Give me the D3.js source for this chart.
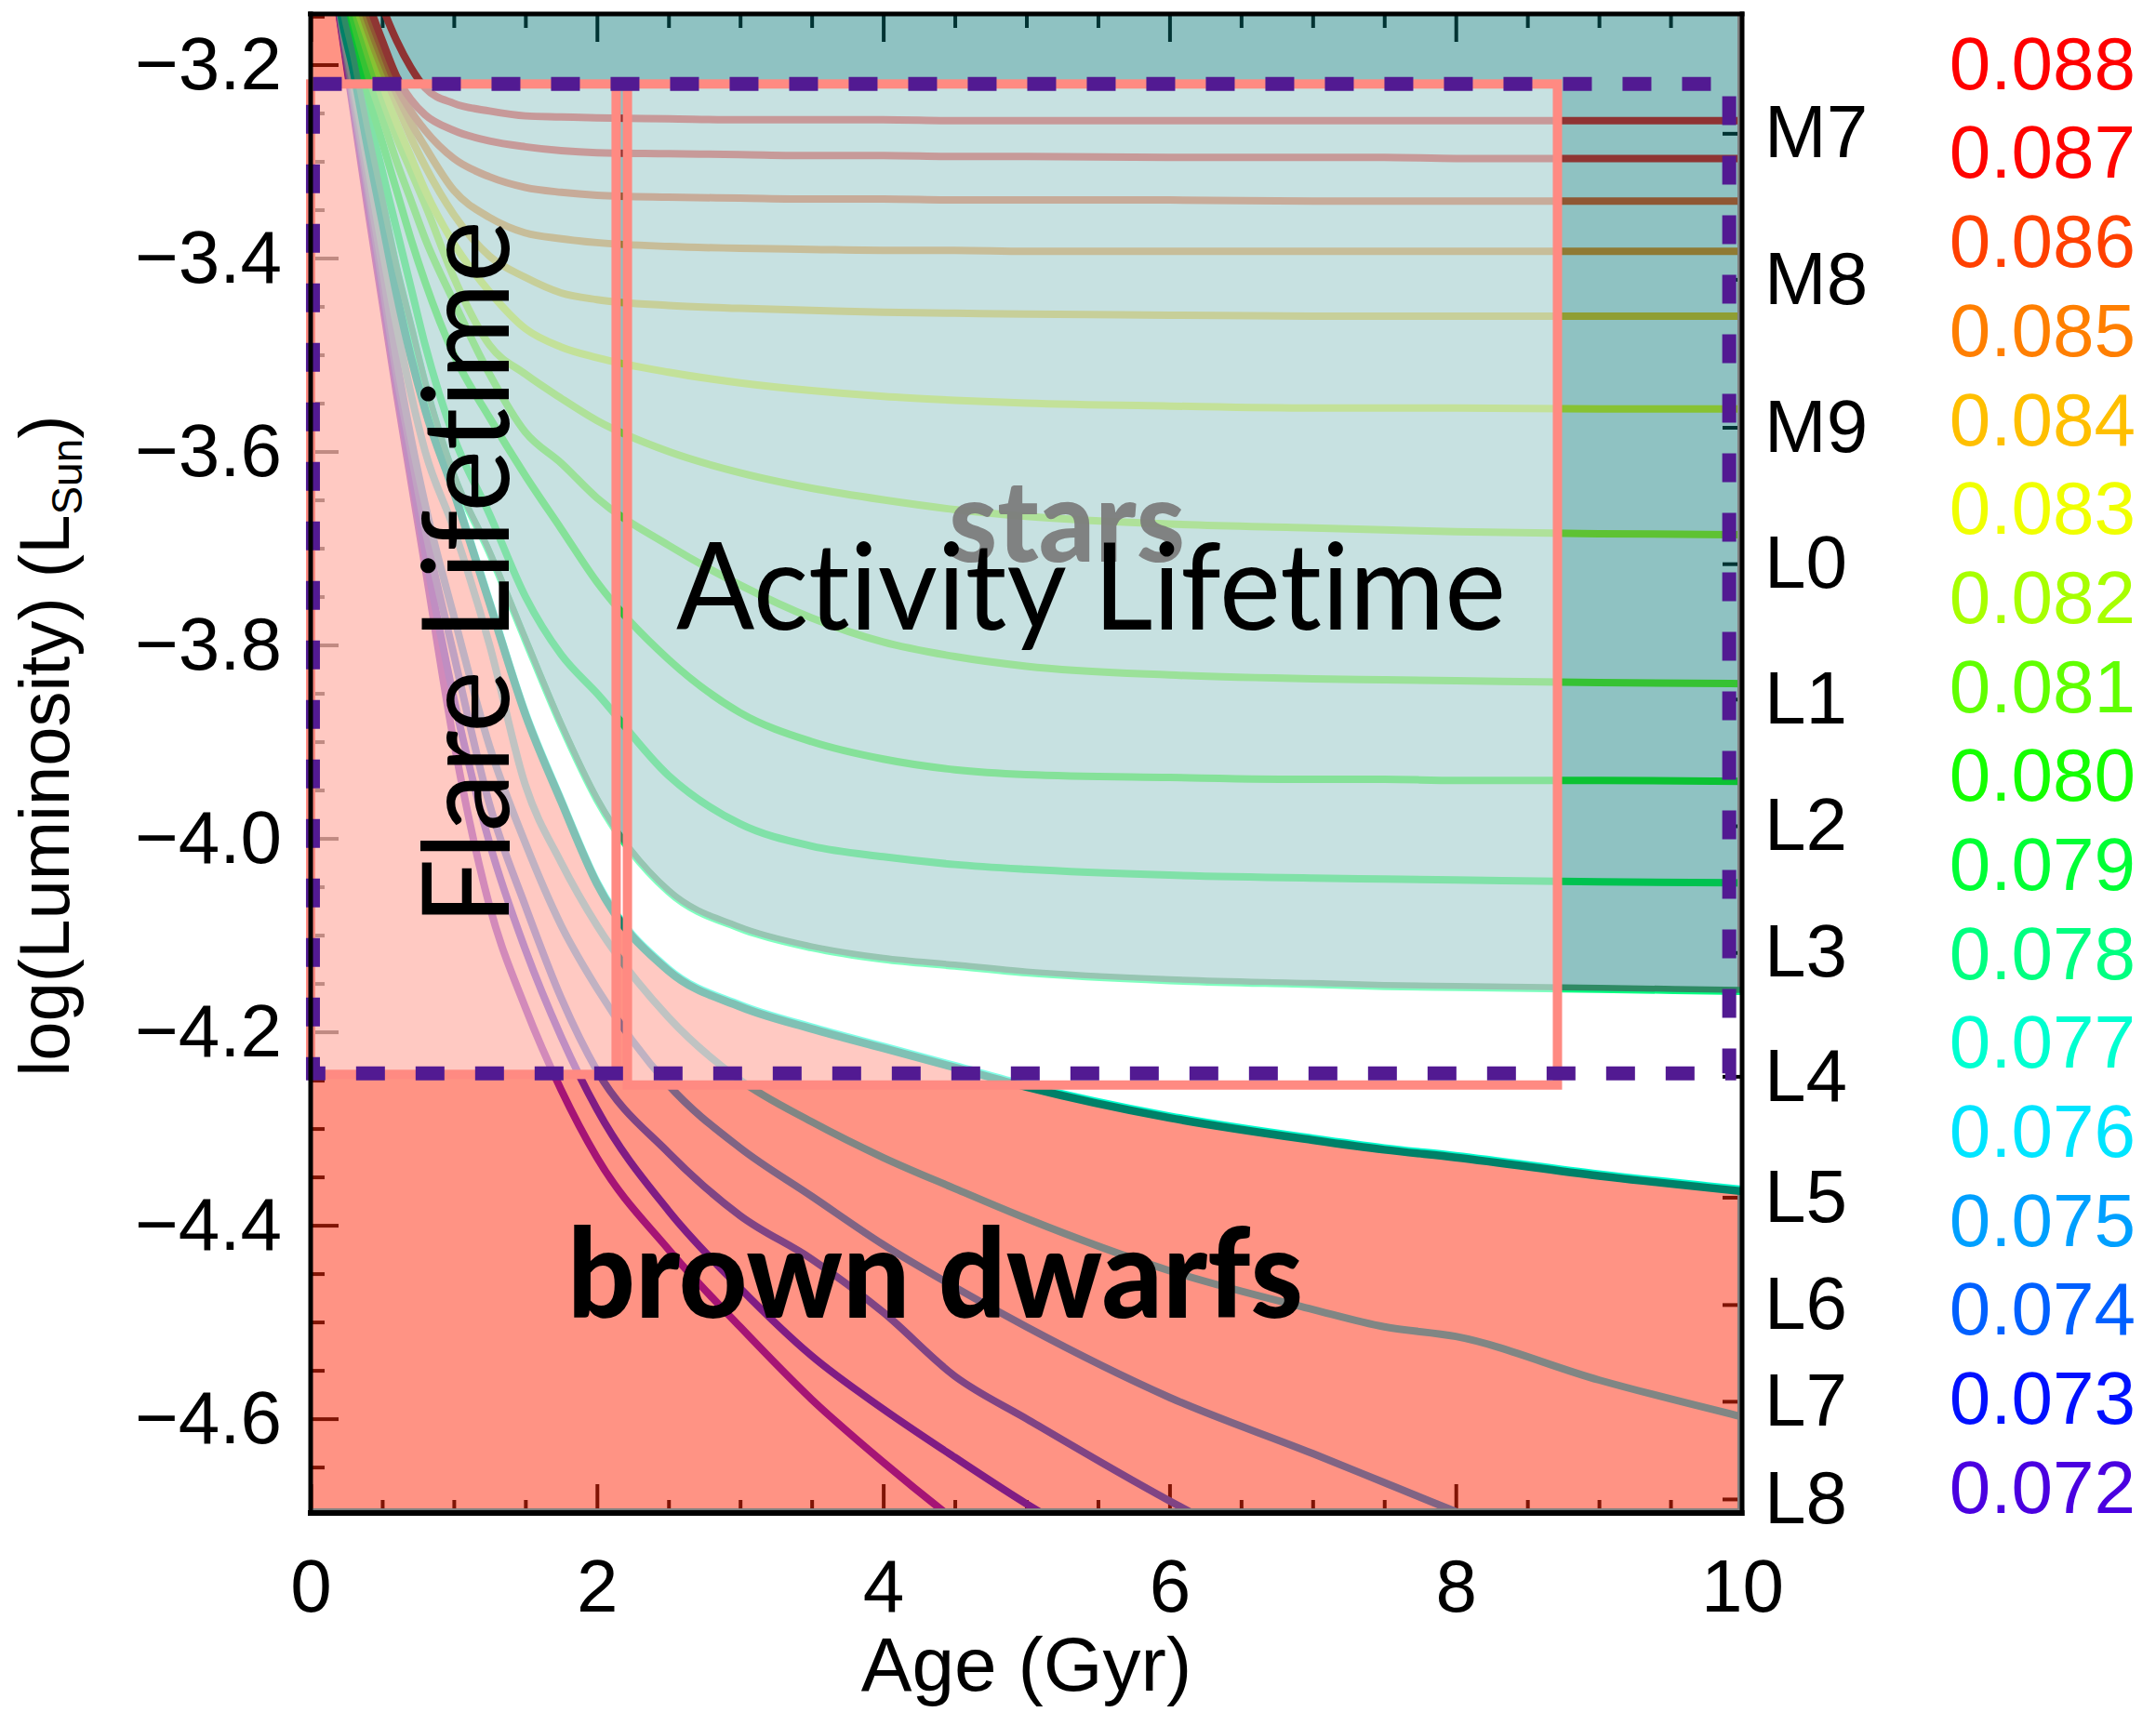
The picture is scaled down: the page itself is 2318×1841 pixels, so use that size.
<!DOCTYPE html>
<html>
<head>
<meta charset="utf-8">
<script src="https://cdn.jsdelivr.net/npm/d3@7"></script>
<style>
  html, body { margin: 0; padding: 0; background: #ffffff; }
  svg { display: block; }
  text { font-variant-ligatures: none; font-feature-settings: "liga" 0; }
</style>
</head>
<body>
<svg id="chart" width="2318" height="1841"></svg>
<script>
// Evolutionary luminosity tracks, log(L/Lsun) versus age (Gyr), one per mass (Msun).
const ages = [0.05, 0.1, 0.2, 0.3, 0.4, 0.5, 0.6, 0.7, 0.8, 1.0, 1.25, 1.5, 1.75, 2.0, 2.5, 3.0, 3.5, 4.0, 4.5, 5.0, 6.0, 7.0, 7.5, 8.0, 9.0, 10.0];

const lum072 = [-2.97, -3.05, -3.15, -3.25, -3.35, -3.445, -3.54, -3.63, -3.72, -3.90, -4.07, -4.175, -4.26, -4.33, -4.425, -4.505, -4.58, -4.645, -4.705, -4.76, -4.86, -4.95, -4.99, -5.03, -5.10, -5.17];
const lum073 = [-2.96, -3.04, -3.148, -3.245, -3.34, -3.435, -3.53, -3.62, -3.705, -3.855, -4.005, -4.115, -4.205, -4.28, -4.385, -4.465, -4.535, -4.59, -4.64, -4.688, -4.77, -4.85, -4.885, -4.92, -4.99, -5.05];
const lum074 = [-2.95, -3.03, -3.145, -3.24, -3.33, -3.425, -3.52, -3.60, -3.68, -3.81, -3.965, -4.07, -4.165, -4.24, -4.325, -4.39, -4.435, -4.49, -4.556, -4.60, -4.685, -4.76, -4.795, -4.83, -4.89, -4.95];
const lum075 = [-2.94, -3.02, -3.142, -3.232, -3.32, -3.41, -3.505, -3.585, -3.655, -3.77, -3.905, -4.005, -4.09, -4.155, -4.255, -4.32, -4.37, -4.42, -4.464, -4.505, -4.578, -4.636, -4.666, -4.696, -4.75, -4.80];
const lum076 = [-2.93, -3.01, -3.14, -3.222, -3.305, -3.39, -3.47, -3.54, -3.60, -3.68, -3.80, -3.945, -4.025, -4.09, -4.185, -4.25, -4.293, -4.33, -4.362, -4.393, -4.447, -4.487, -4.505, -4.515, -4.56, -4.598];
const lum077 = [-2.92, -3.0, -3.135, -3.205, -3.285, -3.36, -3.435, -3.50, -3.555, -3.64, -3.755, -3.87, -3.96, -4.045, -4.135, -4.172, -4.195, -4.215, -4.235, -4.255, -4.287, -4.31, -4.32, -4.328, -4.347, -4.363];
const lum078 = [-2.91, -2.99, -3.125, -3.195, -3.27, -3.34, -3.41, -3.47, -3.53, -3.625, -3.705, -3.795, -3.883, -3.96, -4.055, -4.093, -4.113, -4.125, -4.132, -4.139, -4.147, -4.151, -4.153, -4.154, -4.156, -4.158];
const lum079 = [-2.90, -2.98, -3.115, -3.185, -3.25, -3.31, -3.37, -3.43, -3.49, -3.585, -3.665, -3.75, -3.81, -3.85, -3.935, -3.985, -4.008, -4.019, -4.027, -4.032, -4.038, -4.041, -4.042, -4.043, -4.045, -4.046];
const lum080 = [-2.89, -2.97, -3.105, -3.17, -3.23, -3.28, -3.33, -3.38, -3.425, -3.50, -3.565, -3.625, -3.68, -3.735, -3.815, -3.87, -3.90, -3.918, -3.929, -3.934, -3.937, -3.939, -3.939, -3.94, -3.94, -3.941];
const lum081 = [-2.88, -2.96, -3.095, -3.155, -3.21, -3.255, -3.30, -3.34, -3.38, -3.445, -3.52, -3.58, -3.612, -3.648, -3.697, -3.738, -3.772, -3.797, -3.812, -3.822, -3.831, -3.835, -3.836, -3.837, -3.839, -3.84];
const lum082 = [-2.87, -2.95, -3.085, -3.14, -3.19, -3.235, -3.275, -3.31, -3.345, -3.42, -3.49, -3.52, -3.545, -3.568, -3.60, -3.622, -3.638, -3.65, -3.66, -3.667, -3.675, -3.679, -3.681, -3.683, -3.685, -3.686];
const lum083 = [-2.86, -2.94, -3.075, -3.13, -3.175, -3.22, -3.26, -3.295, -3.33, -3.385, -3.435, -3.473, -3.492, -3.503, -3.518, -3.529, -3.537, -3.543, -3.547, -3.55, -3.553, -3.555, -3.555, -3.555, -3.556, -3.556];
const lum084 = [-2.85, -2.93, -3.065, -3.12, -3.165, -3.205, -3.24, -3.275, -3.305, -3.355, -3.398, -3.42, -3.436, -3.443, -3.449, -3.452, -3.454, -3.456, -3.457, -3.458, -3.459, -3.46, -3.46, -3.46, -3.46, -3.46];
const lum085 = [-2.84, -2.92, -3.055, -3.11, -3.155, -3.195, -3.23, -3.26, -3.285, -3.33, -3.358, -3.374, -3.38, -3.384, -3.388, -3.39, -3.391, -3.392, -3.392, -3.393, -3.393, -3.393, -3.393, -3.393, -3.393, -3.393];
const lum086 = [-2.83, -2.91, -3.045, -3.10, -3.145, -3.185, -3.222, -3.248, -3.268, -3.297, -3.316, -3.327, -3.332, -3.335, -3.337, -3.338, -3.339, -3.339, -3.34, -3.34, -3.34, -3.341, -3.341, -3.341, -3.341, -3.341];
const lum087 = [-2.82, -2.90, -3.035, -3.09, -3.135, -3.175, -3.212, -3.236, -3.252, -3.268, -3.279, -3.285, -3.289, -3.291, -3.292, -3.293, -3.294, -3.294, -3.295, -3.295, -3.296, -3.296, -3.296, -3.297, -3.297, -3.297];
const lum088 = [-2.80, -2.88, -2.99, -3.05, -3.10, -3.14, -3.175, -3.203, -3.224, -3.24, -3.248, -3.253, -3.254, -3.255, -3.256, -3.257, -3.257, -3.257, -3.258, -3.258, -3.258, -3.258, -3.258, -3.258, -3.258, -3.258];

// Masses (legend order, top to bottom) and their rainbow colours
const masses = ["0.088", "0.087", "0.086", "0.085", "0.084", "0.083", "0.082", "0.081", "0.080", "0.079", "0.078", "0.077", "0.076", "0.075", "0.074", "0.073", "0.072"];
const massColors = ["#ff0000", "#ff0400", "#ff4000", "#ff7f00", "#ffbf00", "#f0ff00", "#a8ff00", "#60ff00", "#14ff00", "#00ff35", "#00ff80", "#00ffd0", "#00e5ff", "#00a0ff", "#0060ff", "#0010ff", "#4a00e0"];
const massLums = [lum088, lum087, lum086, lum085, lum084, lum083, lum082, lum081, lum080, lum079, lum078, lum077, lum076, lum075, lum074, lum073, lum072];

// Spectral types on the right-hand axis
const spectralTypes = ["M7", "M8", "M9", "L0", "L1", "L2", "L3", "L4", "L5", "L6", "L7", "L8"];
const spectralLum = [-3.271, -3.422, -3.575, -3.716, -3.856, -3.987, -4.118, -4.246, -4.371, -4.482, -4.582, -4.683];

// Axis ticks
const ageTicks = [0, 2, 4, 6, 8, 10];
const ageMinorTicks = [0.5, 1, 1.5, 2.5, 3, 3.5, 4.5, 5, 5.5, 6.5, 7, 7.5, 8.5, 9, 9.5];
const lumTicks = [-4.6, -4.4, -4.2, -4.0, -3.8, -3.6, -3.4, -3.2];
const lumMinorTicks = [-4.65, -4.55, -4.5, -4.45, -4.35, -4.3, -4.25, -4.15, -4.1, -4.05, -3.95, -3.9, -3.85, -3.75, -3.7, -3.65, -3.55, -3.5, -3.45, -3.35, -3.3, -3.25, -3.15];

// Activity and flare windows (age range, luminosity range)
const flareBox = { age: [0, 2.134], lum: [-3.22, -4.244] };
const activityBox = { age: [2.213, 8.71], lum: [-3.22, -4.255] };
const limitBox = { age: [0.016, 9.91], lum: [-3.22, -4.243] };

// ---------------------------------------------------------------
const svg = d3.select("#chart");
const plotL = 334, plotR = 1873, plotT = 15, plotB = 1627;

const x = d3.scaleLinear().domain([0, 10]).range([plotL, plotR]);
const y = d3.scaleLinear().domain([-4.6, -3.2]).range([1525.6, 69.5]);

const FONT = "'Liberation Sans', Arial, Helvetica, sans-serif";
const TITLE_FONT = "Lato, 'Open Sans', sans-serif";

svg.append("defs").append("clipPath").attr("id", "plotclip")
  .append("rect").attr("x", plotL).attr("y", plotT)
  .attr("width", plotR - plotL).attr("height", plotB - plotT);

const plot = svg.append("g").attr("clip-path", "url(#plotclip)");

function noDomain(g) { g.select(".domain").remove(); }

// Tick marks (drawn first so the shaded regions tint them)
const ticks = plot.append("g").attr("color", "#000").attr("stroke-width", 4);
ticks.append("g").attr("transform", `translate(${plotL},0)`)
  .call(d3.axisRight(y).tickValues(lumTicks).tickSize(30).tickFormat(""))
  .call(noDomain);
ticks.append("g").attr("transform", `translate(${plotL},0)`)
  .call(d3.axisRight(y).tickValues(lumMinorTicks).tickSize(15).tickFormat(""))
  .call(noDomain);
ticks.append("g").attr("transform", `translate(0,${plotB})`)
  .call(d3.axisTop(x).tickValues(ageTicks).tickSize(31).tickFormat(""))
  .call(noDomain);
ticks.append("g").attr("transform", `translate(0,${plotB})`)
  .call(d3.axisTop(x).tickValues(ageMinorTicks).tickSize(14).tickFormat(""))
  .call(noDomain);
ticks.append("g").attr("transform", `translate(0,${plotT})`)
  .call(d3.axisBottom(x).tickValues(ageTicks).tickSize(30).tickFormat(""))
  .call(noDomain);
ticks.append("g").attr("transform", `translate(0,${plotT})`)
  .call(d3.axisBottom(x).tickValues(ageMinorTicks).tickSize(15).tickFormat(""))
  .call(noDomain);
ticks.append("g").attr("transform", `translate(${plotR},0)`)
  .call(d3.axisLeft(y).tickValues(spectralLum).tickSize(21).tickFormat(""))
  .call(noDomain);

// Evolutionary tracks
const tracks = masses.map((m, i) => ({
  mass: m,
  color: massColors[i],
  points: ages.map((a, j) => ({ age: a, lum: massLums[i][j] }))
}));

const line = d3.line()
  .x(d => x(d.age))
  .y(d => y(d.lum))
  .curve(d3.curveMonotoneX);

plot.append("g").selectAll("path")
  .data(tracks.slice().reverse())
  .join("path")
  .attr("d", d => line(d.points))
  .attr("fill", "none")
  .attr("stroke", d => d.color)
  .attr("stroke-width", 8)
  .attr("stroke-linejoin", "round");

const track077 = tracks.find(t => t.mass === "0.077");
const track078 = tracks.find(t => t.mass === "0.078");
const last077 = track077.points[track077.points.length - 1];
const last078 = track078.points[track078.points.length - 1];

// Stellar region: above the 0.078 Msun track
const starArea = d3.area()
  .x(d => x(d.age))
  .y0(plotT - 20)
  .y1(d => y(d.lum))
  .curve(d3.curveMonotoneX);
plot.append("path")
  .attr("d", starArea(track078.points))
  .attr("fill", "rgb(0,115,115)")
  .attr("fill-opacity", 0.44);

// Brown dwarf region: below the 0.077 Msun track
const bdPoints = [{ age: 0, lum: track077.points[0].lum }].concat(track077.points);
const bdArea = d3.area()
  .x(d => x(d.age))
  .y0(plotB + 20)
  .y1(d => y(d.lum))
  .curve(d3.curveMonotoneX);
plot.append("path")
  .attr("d", bdArea(bdPoints))
  .attr("fill", "rgb(255,40,10)")
  .attr("fill-opacity", 0.5);

// Grey outline of the shaded regions along the plot edges
const outline = plot.append("g").attr("stroke", "#808080").attr("stroke-width", 10).attr("fill", "none");
outline.append("line").attr("x1", x(10)).attr("x2", x(10)).attr("y1", plotT).attr("y2", y(last078.lum));
outline.append("line").attr("x1", x(10)).attr("x2", x(10)).attr("y1", y(last077.lum)).attr("y2", plotB);
outline.append("line").attr("x1", x(0)).attr("x2", x(10)).attr("y1", plotB).attr("y2", plotB);

// Boundary tracks drawn darker along the region edges
plot.append("path")
  .attr("d", line(track077.points))
  .attr("transform", "translate(0,2)")
  .attr("fill", "none").attr("stroke", "#008068").attr("stroke-width", 8.5);
plot.append("path")
  .attr("d", line(track078.points))
  .attr("transform", "translate(0,-1.5)")
  .attr("fill", "none").attr("stroke", "#2f8a64").attr("stroke-width", 6.5);

// Flare and activity windows
function boxRect(g, b) {
  return g.append("rect")
    .attr("x", x(b.age[0]))
    .attr("y", y(b.lum[0]))
    .attr("width", x(b.age[1]) - x(b.age[0]))
    .attr("height", y(b.lum[1]) - y(b.lum[0]));
}
const boxes = svg.append("g");
boxRect(boxes, flareBox).attr("fill", "#ffffff").attr("fill-opacity", 0.5)
  .attr("stroke", "#ff8a82").attr("stroke-width", 10);
boxRect(boxes, activityBox).attr("fill", "#ffffff").attr("fill-opacity", 0.5)
  .attr("stroke", "#ff8a82").attr("stroke-width", 10);
boxRect(boxes, limitBox).attr("fill", "none")
  .attr("stroke", "#521a92").attr("stroke-width", 15)
  .attr("stroke-dasharray", "31,33");

// Region and window labels
svg.append("text")
  .attr("x", 1147).attr("y", 604)
  .attr("text-anchor", "middle")
  .attr("font-family", TITLE_FONT).attr("font-weight", 900)
  .attr("font-size", 122).attr("fill", "#7c7c7c").attr("fill-opacity", 0.95)
  .attr("textLength", 254).attr("lengthAdjust", "spacingAndGlyphs")
  .text("stars");

svg.append("text")
  .attr("x", 727).attr("y", 677)
  .attr("font-family", TITLE_FONT).attr("font-size", 129).attr("fill", "#000")
  .attr("textLength", 892).attr("lengthAdjust", "spacingAndGlyphs")
  .text("Activity Lifetime");

svg.append("text")
  .attr("transform", "translate(547,995) rotate(-90)")
  .attr("font-family", TITLE_FONT).attr("font-size", 129).attr("fill", "#000")
  .attr("textLength", 758).attr("lengthAdjust", "spacingAndGlyphs")
  .text("Flare Lifetime");

svg.append("text")
  .attr("x", 610).attr("y", 1417)
  .attr("font-family", TITLE_FONT).attr("font-weight", 900)
  .attr("font-size", 134).attr("fill", "#000")
  .attr("textLength", 791).attr("lengthAdjust", "spacingAndGlyphs")
  .text("brown dwarfs");

// Frame
const frame = svg.append("g").attr("stroke", "#000").attr("fill", "none");
frame.append("line").attr("x1", plotL - 3).attr("x2", plotR + 2.5).attr("y1", plotT).attr("y2", plotT).attr("stroke-width", 5);
frame.append("line").attr("x1", plotL - 3).attr("x2", plotR + 2.5).attr("y1", plotB).attr("y2", plotB).attr("stroke-width", 6);
frame.append("line").attr("x1", plotL).attr("x2", plotL).attr("y1", plotT - 2.5).attr("y2", plotB + 3).attr("stroke-width", 5);
frame.append("line").attr("x1", plotR).attr("x2", plotR).attr("y1", plotT - 2.5).attr("y2", plotB + 3).attr("stroke-width", 5);

// Tick labels
const fmt = d3.format(".1f");
svg.append("g").attr("transform", `translate(${plotL},0)`)
  .call(d3.axisLeft(y).tickValues(lumTicks).tickSize(0).tickPadding(31).tickFormat(fmt))
  .call(noDomain)
  .call(g => g.selectAll("text").attr("font-family", FONT).attr("font-size", 80).attr("fill", "#000"));

svg.append("g").attr("transform", `translate(0,${plotB})`)
  .call(d3.axisBottom(x).tickValues(ageTicks).tickSize(0).tickPadding(49).tickFormat(d3.format("d")))
  .call(noDomain)
  .call(g => g.selectAll("text").attr("font-family", FONT).attr("font-size", 80).attr("fill", "#000"));

svg.append("g").attr("transform", `translate(${plotR},0)`)
  .call(d3.axisRight(y).tickValues(spectralLum).tickSize(0).tickPadding(24)
    .tickFormat((d, i) => spectralTypes[i]))
  .call(noDomain)
  .call(g => g.selectAll("text").attr("font-family", FONT).attr("font-size", 80).attr("fill", "#000"));

// Axis titles
svg.append("text")
  .attr("x", (plotL + plotR) / 2).attr("y", 1818)
  .attr("text-anchor", "middle")
  .attr("font-family", FONT).attr("font-size", 82).attr("fill", "#000")
  .text("Age (Gyr)");

const yTitle = svg.append("text")
  .attr("transform", "translate(74,802) rotate(-90)")
  .attr("text-anchor", "middle")
  .attr("font-family", FONT).attr("font-size", 76).attr("fill", "#000");
yTitle.append("tspan").text("log(Luminosity) (L");
yTitle.append("tspan").attr("font-size", 46).attr("dy", 14).text("Sun");
yTitle.append("tspan").attr("dy", -14).text(")");

// Mass legend
const legendY = d3.scalePoint().domain(masses).range([67, 1598]);
svg.append("g").selectAll("text")
  .data(masses)
  .join("text")
  .attr("x", 2296)
  .attr("y", d => legendY(d))
  .attr("dy", "0.36em")
  .attr("text-anchor", "end")
  .attr("font-family", FONT).attr("font-size", 80)
  .attr("fill", (d, i) => massColors[i])
  .text(d => d);
</script>
</body>
</html>
